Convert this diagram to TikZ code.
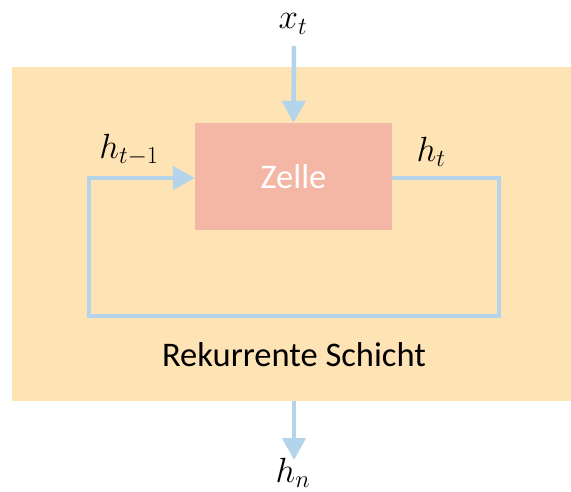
\documentclass[tikz,border=0pt]{standalone}
\usepackage{fix-cm}
\usepackage{fontspec}
\setmainfont{Carlito}
\usetikzlibrary{arrows.meta}
\definecolor{layerbg}{HTML}{FEE3B5}
\definecolor{cellbg}{HTML}{F4B7A5}
\definecolor{flow}{HTML}{B3D4EB}
\tikzset{
  flowline/.style={draw=flow, line width=4.5pt},
  flowarrow/.style={flowline, -{Triangle[width=23pt,length=22pt]}},
  mathlbl/.style={font=\fontsize{35}{40}\selectfont, inner sep=0pt},
}
\begin{document}
\begin{tikzpicture}[x=1pt,y=-1pt]
\useasboundingbox (0,0) rectangle (571,491);
\fill[layerbg] (12,67) rectangle (571,401);
\node[fill=cellbg, minimum width=197pt, minimum height=107pt, inner sep=0pt, text=white, font=\fontsize{34.5}{40}\selectfont] (cell) at (293.5,176.5) {Zelle};
\node[mathlbl] (xt) at (293,24) {$x_t$};
\node[mathlbl] (hprev) at (129,150) {$h_{t-1}$};
\node[mathlbl] (ht) at (431,152) {$h_t$};
\node[mathlbl] (hn) at (293,473) {$h_n$};
\node[font=\fontsize{34.5}{40}\selectfont, inner sep=0pt] (layer) at (294,355) {Rekurrente Schicht};
\coordinate (top) at (294,46);
\coordinate (bot) at (294,401);
\coordinate (outend) at (294,460);
\draw[flowarrow] (top) -- (cell.north);
\draw[flowline] (cell.east |- 0,178) -- (499,178) -- (499,316) -- (89,316) -- (89,178) -- (173,178);
\draw[flowarrow] (89,178) -- (cell.west |- 0,178);
\draw[flowarrow] (bot) -- (outend);
\end{tikzpicture}
\end{document}
